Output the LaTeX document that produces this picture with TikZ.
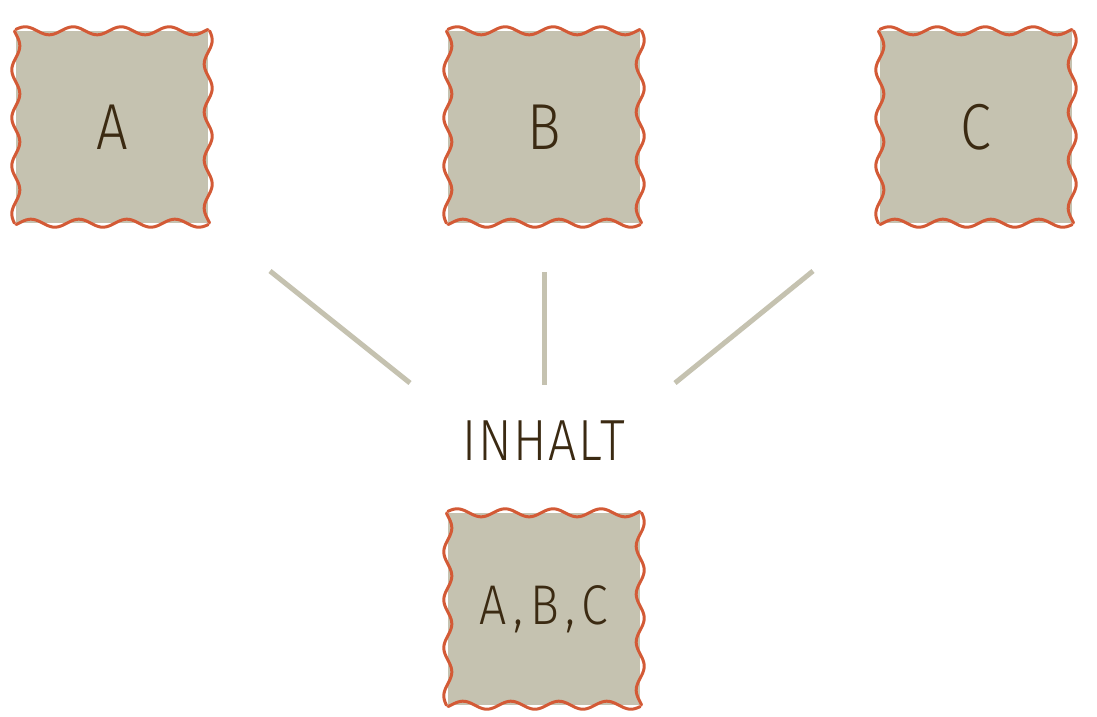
\documentclass[tikz,border=0pt]{standalone}
\usepackage{fontspec}
\setmainfont{Fira Sans}[UprightFont=* Light, FakeStretch=0.86]
\definecolor{boxgray}{HTML}{C5C2B0}
\definecolor{wavered}{HTML}{D35A36}
\definecolor{textbrown}{HTML}{3B2A12}
\tikzset{
  wavybox/.style={fill=boxgray, minimum size=192pt, inner sep=0pt,
    text=textbrown, font=\fontsize{65}{65}\selectfont},
  wavyline/.style={draw=wavered, line width=3pt, line cap=round, line join=round},
  link/.style={draw=boxgray, line width=5pt}
}
\newcommand{\wavyborder}[1]{%
  \draw[wavyline, shift={(#1.north west)}] plot[domain=0:192, samples=97, smooth] (\x, {-4*sin(7.5*\x+20)});
  \draw[wavyline, shift={(#1.north east)}] plot[domain=0:192, samples=97, smooth] ({4*sin(7.5*\x+20)}, \x);
  \draw[wavyline, shift={(#1.south east)}] plot[domain=0:192, samples=97, smooth] (-\x, {4*sin(7.5*\x+20)});
  \draw[wavyline, shift={(#1.south west)}] plot[domain=0:192, samples=97, smooth] ({-4*sin(7.5*\x+20)}, -\x);
}
\begin{document}
\begin{tikzpicture}[x=1pt, y=-1pt]
\useasboundingbox (0,0) rectangle (1097,717);
% source boxes
\node[wavybox] (a) at (112,127) {A};
\node[wavybox] (b) at (544,127) {B};
\node[wavybox] (c) at (976,127) {C};
% merged content
\node[text=textbrown, font=\fontsize{58}{58}\selectfont\addfontfeature{LetterSpace=3}] (inhalt) at (544,441) {INHALT};
\node[wavybox, font=\fontsize{56}{56}\selectfont\addfontfeature{LetterSpace=12}] (abc) at (544,609) {A,B,C};
% wavy borders
\foreach \n in {a,b,c,abc} {\wavyborder{\n}}
% links
\coordinate (a1) at (270,271);
\coordinate (a2) at (410,383);
\coordinate (b1) at (544,272);
\coordinate (b2) at (544,385);
\coordinate (c1) at (813,271);
\coordinate (c2) at (675,383);
\draw[link] (a1) -- (a2);
\draw[link] (b1) -- (b2);
\draw[link] (c1) -- (c2);
\end{tikzpicture}
\end{document}
